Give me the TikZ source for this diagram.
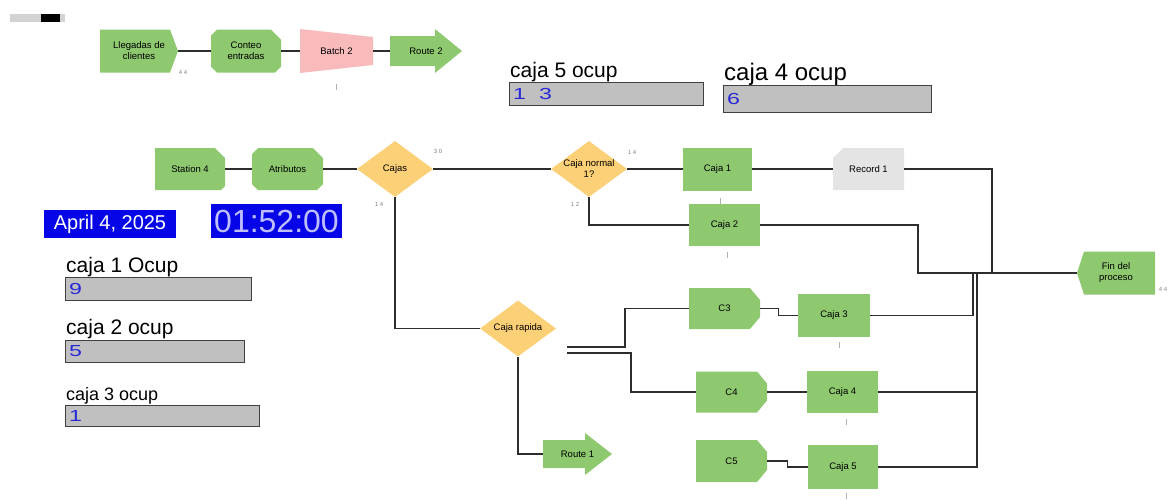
\documentclass[tikz,border=0pt]{standalone}
\usepackage{fontspec}
\setmainfont{Liberation Sans}
\usepackage{graphicx}
\usetikzlibrary{shapes.geometric}
\newcommand\ppbb{path picture bounding box}

\begin{document}
\begin{tikzpicture}[x=1pt, y=-1pt,
    every node/.style={inner sep=0pt, align=center, font=\fontsize{9.5}{11}\selectfont},
    mod/.style={minimum width=70pt, minimum height=43pt},
    box/.style={mod, fill=arena},
    create/.style={mod, minimum width=78pt, path picture={\fill[arena] (\ppbb.north west) -- ([xshift=-8pt]\ppbb.north east) -- (\ppbb.east) -- ([xshift=-8pt]\ppbb.south east) -- (\ppbb.south west) -- cycle;}},
    dispose/.style={mod, minimum width=78pt, path picture={\fill[arena] ([xshift=7pt]\ppbb.north west) -- (\ppbb.north east) -- (\ppbb.south east) -- ([xshift=7pt]\ppbb.south west) -- (\ppbb.west) -- cycle;}},
    assign/.style={mod, path picture={\fill[arena] ([xshift=6pt]\ppbb.north west) -- ([xshift=-10pt]\ppbb.north east) -- ([yshift=-10pt]\ppbb.north east) -- ([yshift=6pt]\ppbb.south east) -- ([xshift=-6pt]\ppbb.south east) -- ([xshift=6pt]\ppbb.south west) -- ([yshift=6pt]\ppbb.south west) -- ([yshift=-6pt]\ppbb.north west) -- cycle;}},
    station/.style={mod, minimum height=42pt, path picture={\fill[arena] (\ppbb.north west) -- ([xshift=-10pt]\ppbb.north east) -- ([yshift=-10pt]\ppbb.north east) -- ([yshift=4pt]\ppbb.south east) -- ([xshift=-4pt]\ppbb.south east) -- (\ppbb.south west) -- cycle;}},
    record/.style={mod, minimum width=71pt, minimum height=42pt, path picture={\fill[recgray] ([xshift=10pt]\ppbb.north west) -- (\ppbb.north east) -- (\ppbb.south east) -- (\ppbb.south west) -- ([yshift=-10pt]\ppbb.north west) -- cycle;}},
    hold/.style={mod, minimum width=71pt, minimum height=41pt, path picture={\fill[arena] (\ppbb.north west) -- ([xshift=-10pt]\ppbb.north east) -- ([yshift=-12pt]\ppbb.north east) -- ([yshift=12pt]\ppbb.south east) -- ([xshift=-10pt]\ppbb.south east) -- (\ppbb.south west) -- cycle;}},
    batch/.style={mod, minimum width=73pt, minimum height=44pt, path picture={\fill[batchpink] (\ppbb.north west) -- ([yshift=-8pt]\ppbb.north east) -- ([yshift=8pt]\ppbb.south east) -- (\ppbb.south west) -- cycle;}},
    route/.style={mod, minimum height=44pt, path picture={\fill[arena] ([yshift=-7pt]\ppbb.north west) -- ([xshift=-27pt,yshift=-7pt]\ppbb.north east) -- ([xshift=-27pt]\ppbb.north east) -- (\ppbb.east) -- ([xshift=-27pt]\ppbb.south east) -- ([xshift=-27pt,yshift=7pt]\ppbb.south east) -- ([yshift=7pt]\ppbb.south west) -- cycle;}},
    decide/.style={diamond, minimum width=76pt, minimum height=56pt, fill=decidecol},
    conn/.style={draw=linecol, line width=1.2pt},
    dispbox/.style={draw=dispedge, line width=1pt, fill=dispgray, minimum height=23pt, anchor=north west},
    dval/.style={anchor=west, text=valblue, font=\fontsize{16}{16}\selectfont},
    dtitle/.style={anchor=base west, font=\fontsize{21}{21}\selectfont},
    datebox/.style={fill=clockblue, text=white, minimum width=132pt, minimum height=28pt, font=\fontsize{20}{20}\selectfont},
    clockbox/.style={fill=clockblue, text=clocktext, minimum width=131pt, minimum height=34pt, font=\fontsize{32}{32}\selectfont},
    smallnum/.style={text=gray, font=\fontsize{6}{6}\selectfont},
    qline/.style={draw=gray!60, line width=0.8pt}
]
    \definecolor{arena}{RGB}{142,201,112}
    \definecolor{decidecol}{RGB}{252,208,118}
    \definecolor{batchpink}{RGB}{248,186,186}
    \definecolor{recgray}{RGB}{228,228,228}
    \definecolor{dispgray}{RGB}{192,192,192}
    \definecolor{dispedge}{RGB}{64,64,64}
    \definecolor{valblue}{RGB}{40,40,215}
    \definecolor{clockblue}{RGB}{5,5,232}
    \definecolor{clocktext}{RGB}{190,190,255}
    \definecolor{linecol}{RGB}{45,45,45}

    \useasboundingbox (0,0) rectangle (1171,499);

    \fill[gray!35] (10,14) rectangle (65,22);
    \fill[black] (41,14) rectangle (60,22);

    % llegadas
    \node[create] (lleg) at (139,51) {Llegadas de\\clientes};
    \node[assign] (cont) at (246,51) {Conteo\\entradas};
    \node[batch] (bat) at (336.5,51) {Batch 2};
    \node[route, minimum width=72pt] (rt2) at (426,51) {Route 2};

    % proceso principal
    \node[station] (st4) at (190,169) {Station 4};
    \node[assign, minimum width=71pt, minimum height=42pt] (atr) at (287.5,169) {Atributos};
    \node[decide, label=center:Cajas] (cajas) at (395,169) {};
    \node[decide, label={center:{Caja normal\\1?}}] (norm) at (589,169) {};
    \node[box, minimum width=69pt] (caja1) at (717.5,169) {Caja 1};
    \node[record] (rec1) at (868.5,169) {Record 1};
    \node[box, minimum width=71pt, minimum height=42pt] (caja2) at (724.5,225) {Caja 2};
    \node[dispose] (fin) at (1116,273) {Fin del\\proceso};

    % cajas rapidas
    \node[decide, label={center:Caja rapida}] (rap) at (518,328.5) {};
    \node[route, minimum width=69pt, minimum height=42pt] (rt1) at (577.5,454) {Route 1};
    \node[hold] (c3) at (724.5,308.5) {C3};
    \node[box, minimum width=72pt] (caja3) at (834,315.5) {Caja 3};
    \node[hold] (c4) at (731.5,392) {C4};
    \node[box, minimum width=71pt, minimum height=42pt] (caja4) at (842.5,392) {Caja 4};
    \node[hold, minimum height=42pt] (c5) at (731.5,461) {C5};
    \node[box, minimum height=44pt] (caja5) at (843,467) {Caja 5};

    \coordinate (jr) at (992,273);
    \coordinate (j2) at (918,273);
    \coordinate (j3) at (973,273);
    \coordinate (j45) at (977,273);
    \coordinate (ra1) at (567,347);
    \coordinate (ra2) at (567,353);

    \draw[conn] (lleg) -- (cont) -- (bat) -- (rt2);
    \draw[conn] (st4) -- (atr) -- (cajas) -- (norm) -- (caja1) -- (rec1);
    \draw[conn] (rec1) -| (jr) -- (fin);
    \draw[conn] (norm.south) |- (caja2);
    \draw[conn] (caja2) -| (j2) -- (jr);
    \draw[conn] (cajas.south) |- (rap);
    \draw[conn] (rap.south) |- (rt1);
    \draw[conn] (ra1) -- ++(58,0) |- (c3);
    \draw[conn] (ra2) -- ++(64,0) |- (c4);
    \draw[conn] (c3.east) -- ++(18,0) |- (caja3);
    \draw[conn] (c4) -- (caja4);
    \draw[conn] (c5.east) -- ++(20,0) |- (caja5);
    \draw[conn] (caja3) -| (j3);
    \draw[conn] (caja4) -| (j45);
    \draw[conn] (caja5) -| (j45);

    % contadores
    \node[smallnum] (n1) at (183,72) {4 4};
    \node[smallnum] (n2) at (438,151) {3 0};
    \node[smallnum] (n3) at (379,204) {1 4};
    \node[smallnum] (n4) at (632,152) {1 4};
    \node[smallnum] (n5) at (575,204) {1 2};
    \node[smallnum] (n6) at (1163,289) {4 4};
    \foreach \qx/\qy in {336/84, 720/198, 727/252, 839/342, 846/419, 846/493}
        \draw[qline] (\qx,\qy) -- ++(0,6);

    % variables
    \node[datebox] (fecha) at (110,224) {April 4, 2025};
    \node[clockbox] (reloj) at (276.5,221) {01:52:00};

    \node[dispbox, minimum width=186pt] (d1) at (65,277) {};
    \node[dval] (v1) at ([xshift=4pt]d1.west) {\scalebox{1.45}[1]{9}};
    \node[dtitle] (t1) at (66,272) {caja 1 Ocup};

    \node[dispbox, minimum width=179pt, minimum height=22pt] (d2) at (65,340) {};
    \node[dval] (v2) at ([xshift=4pt]d2.west) {\scalebox{1.45}[1]{5}};
    \node[dtitle] (t2) at (66,334) {caja 2 ocup};

    \node[dispbox, minimum width=194pt, minimum height=21pt] (d3) at (65,405) {};
    \node[dval] (v3) at ([xshift=4pt]d3.west) {\scalebox{1.45}[1]{1}};
    \node[dtitle, font=\fontsize{18}{18}\selectfont] (t3) at (66,400) {caja 3 ocup};

    \node[dispbox, minimum width=194pt] (d5) at (509,82) {};
    \node[dval] (v5) at ([xshift=4pt]d5.west) {\scalebox{1.45}[1]{1\hspace{9pt}3}};
    \node[dtitle] (t5) at (510,77) {caja 5 ocup};

    \node[dispbox, minimum width=208pt, minimum height=27pt] (d4) at (723,85) {};
    \node[dval] (v4) at ([xshift=4pt]d4.west) {\scalebox{1.45}[1]{6}};
    \node[dtitle, font=\fontsize{24}{24}\selectfont] (t4) at (724,80) {caja 4 ocup};
\end{tikzpicture}
\end{document}
